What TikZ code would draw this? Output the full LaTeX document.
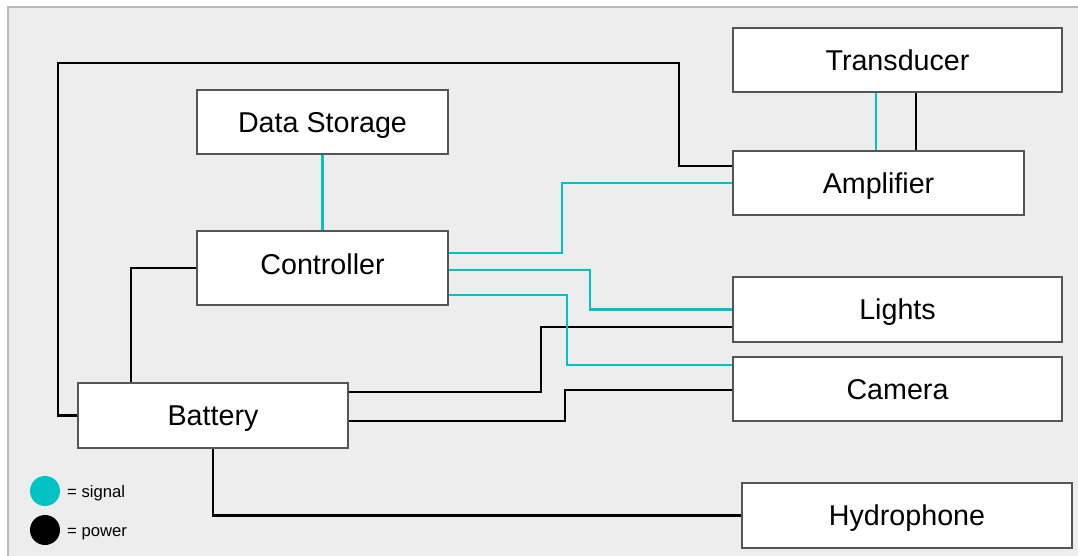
\documentclass[tikz,border=0pt]{standalone}
\usepackage{fontspec}
\setmainfont{Liberation Sans}
\usepackage{xcolor}
\usetikzlibrary{calc}
\definecolor{sigcol}{RGB}{0,196,196}
\definecolor{panel}{RGB}{237,237,237}
\definecolor{edge}{RGB}{85,85,85}

\begin{document}
\begin{tikzpicture}[x=0.75pt,y=-0.75pt,line cap=butt,line join=miter,
  unit/.style={draw=edge,line width=0.8pt,fill=white,inner sep=0pt,text height=15.5pt,text depth=0pt,font=\fontsize{21.5}{26}\selectfont},
  signal/.style={draw=sigcol,line width=2.1pt},
  power/.style={draw=black,line width=2.1pt},
  keytext/.style={right,inner sep=0pt,xshift=5pt,text height=9pt,text depth=0pt,font=\fontsize{12.5}{14}\selectfont}]
\useasboundingbox (0,0) rectangle (1078,556);
\fill[white] (0,0) rectangle (1078,556);
\draw[draw=black!27,fill=panel,line width=0.9pt] (8,7) rectangle (1095,575);
% blocks
\node[unit,minimum width=246.75pt,minimum height=48pt] (trans) at (897.5,60) {Transducer};
\node[unit,minimum width=218.25pt,minimum height=48pt] (amp) at (878.5,183) {Amplifier};
\node[unit,minimum width=188.25pt,minimum height=48pt] (store) at (322.5,122) {Data Storage};
\node[unit,minimum width=188.25pt,minimum height=55.5pt,text depth=6pt] (ctrl) at (322.5,268) {Controller};
\node[unit,minimum width=246.75pt,minimum height=48.75pt] (lights) at (897.5,309.5) {Lights};
\node[unit,minimum width=246.75pt,minimum height=48pt] (cam) at (897.5,389) {Camera};
\node[unit,minimum width=202.5pt,minimum height=48.75pt] (bat) at (213,415.5) {Battery};
\node[unit,minimum width=247.5pt,minimum height=48.75pt] (hyd) at (907,515.5) {Hydrophone};
% power lines
\draw[power] (bat.west) -| (58,63) -| (679,166) -- (amp.west |- 0,166);
\draw[power] (ctrl.west) -| (bat.north -| 131,0);
\draw[power] (bat.east |- 0,392) -- (541,392) |- (lights.west |- 0,327);
\draw[power] (bat.east |- 0,421) -- (565,421) |- (cam.west |- 0,390);
\draw[power] (bat.south) |- (hyd.west);
\draw[power] (trans.south -| 916,0) -- (amp.north -| 916,0);
% signal lines
\draw[signal] (store.south) -- (ctrl.north);
\draw[signal] (trans.south -| 876,0) -- (amp.north -| 876,0);
\draw[signal] (ctrl.east |- 0,253) -| (562,183) -- (amp.west);
\draw[signal] (ctrl.east |- 0,270) -- (590,270) |- (lights.west);
\draw[signal] (ctrl.east |- 0,295) -- (567,295) |- (cam.west |- 0,365);
% key
\node[circle,fill=sigcol,inner sep=0pt,minimum size=22.5pt] (sigdot) at (45,491) {};
\node[keytext] (sigkey) at (sigdot.east) {= signal};
\node[circle,fill=black,inner sep=0pt,minimum size=22.5pt] (pwrdot) at (45,530) {};
\node[keytext] (pwrkey) at (pwrdot.east) {= power};
\end{tikzpicture}
\end{document}
